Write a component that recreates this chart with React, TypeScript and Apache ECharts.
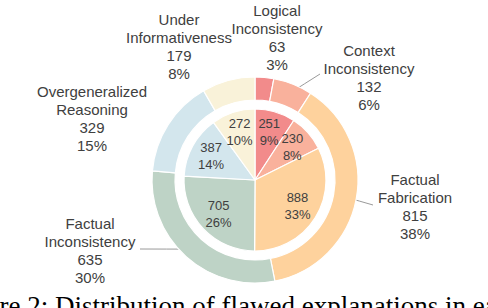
import React, { useEffect, useRef } from "react";
import * as echarts from "echarts";

const categories = [
  "Logical Inconsistency",
  "Context Inconsistency",
  "Factual Fabrication",
  "Factual Inconsistency",
  "Overgeneralized Reasoning",
  "Under Informativeness",
];
const outerValues = [63, 132, 815, 635, 329, 179];
const innerValues = [251, 230, 888, 705, 387, 272];
const colors = ["#F28B8B", "#F9B19C", "#FED29D", "#BED3C6", "#D3E6ED", "#F9F2D9"];
const caption = "Figure 2: Distribution of flawed explanations in each category.";

// layout (not data)
const CX = 255;
const CY = 180;
const INNER_R = 71;
const OUTER_R: [number, number] = [80, 103];
const INNER_LABEL_R = 50;
const LINE_START_R = 93;
const outerLabelPos: [number, number][] = [
  [277, 37],
  [369, 77],
  [415, 206],
  [90, 250],
  [92, 118],
  [179, 46],
];
const outerLineEnds: ([number, number] | null)[] = [
  [273, 78],
  [320, 74],
  [373, 205],
  [140, 249],
  null,
  null,
];

function midAngles(vals: number[]) {
  const total = vals.reduce((a, b) => a + b, 0);
  let acc = 0;
  return vals.map((v) => {
    const m = ((acc + v / 2) / total) * Math.PI * 2;
    acc += v;
    return m;
  });
}
function polar(r: number, a: number): [number, number] {
  return [CX + r * Math.sin(a), CY - r * Math.cos(a)];
}

export default function App() {
  const ref = useRef<HTMLDivElement>(null);
  useEffect(() => {
    if (!ref.current) return;
    const chart = echarts.init(ref.current, null, { renderer: "svg" });
    const innerMid = midAngles(innerValues);
    const outerMid = midAngles(outerValues);
    const font = '"Liberation Sans", Arial, sans-serif';
    chart.setOption({
      animation: false,
      color: colors,
      series: [
        {
          type: "pie",
          name: "inner",
          center: [CX, CY],
          radius: [0, INNER_R],
          startAngle: 90,
          clockwise: true,
          percentPrecision: 0,
          itemStyle: { borderColor: "#fff", borderWidth: 1.2 },
          label: {
            show: true,
            position: "inside",
            formatter: "{c}\n{d}%",
            fontSize: 13,
            lineHeight: 17,
            color: "#404040",
            fontFamily: font,
          },
          labelLine: { show: false },
          labelLayout: (p: any) => {
            const [x, y] = polar(INNER_LABEL_R, innerMid[p.dataIndex]);
            return { x, y, align: "center", verticalAlign: "middle" };
          },
          data: categories.map((n, i) => ({ name: n, value: innerValues[i] })),
        },
        {
          type: "pie",
          name: "outer",
          center: [CX, CY],
          radius: OUTER_R,
          startAngle: 90,
          clockwise: true,
          percentPrecision: 0,
          itemStyle: { borderColor: "#fff", borderWidth: 1.2 },
          label: {
            show: true,
            position: "outside",
            overflow: "none",
            formatter: (p: any) =>
              `${p.name.replace(" ", "\n")}\n${p.value}\n${p.percent}%`,
            fontSize: 15,
            lineHeight: 18,
            color: "#404040",
            fontFamily: font,
          },
          labelLine: { show: true, lineStyle: { color: "#9a9a9a", width: 1 } },
          labelLayout: (p: any) => {
            const i = p.dataIndex;
            const [x, y] = outerLabelPos[i];
            const res: any = { x, y, align: "center", verticalAlign: "middle" };
            const end = outerLineEnds[i];
            if (end) {
              const s = polar(LINE_START_R, outerMid[i]);
              const m: [number, number] = [(s[0] + end[0]) / 2, (s[1] + end[1]) / 2];
              res.labelLinePoints = [s, m, end];
            }
            return res;
          },
          data: categories.map((n, i) => ({
            name: n,
            value: outerValues[i],
            labelLine: { show: outerLineEnds[i] !== null },
          })),
        },
      ],
      graphic: [
        {
          type: "text",
          x: -50,
          y: 292.5,
          style: {
            text: caption,
            font: '27px "Liberation Serif", "Times New Roman", serif',
            fill: "#000",
            verticalAlign: "top",
          },
        },
      ],
    });
    return () => chart.dispose();
  }, []);
  return (
    <div
      ref={ref}
      style={{ position: "fixed", left: 0, top: 0, width: 488, height: 308, background: "#fff" }}
    />
  );
}
